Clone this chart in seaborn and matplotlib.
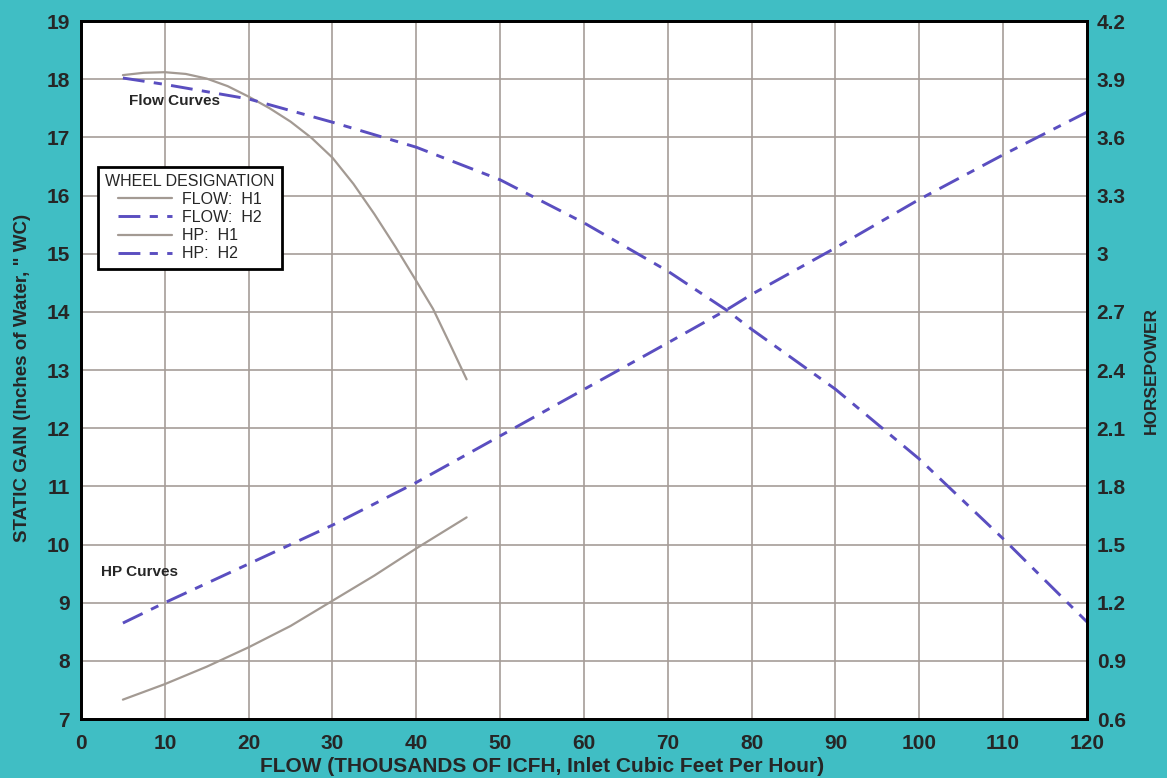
import numpy as np
import matplotlib
matplotlib.use("Agg")
import matplotlib.pyplot as plt
import seaborn as sns


# ======================================================
# Data
# ======================================================
# Flow curves (left axis, static gain in inches of water)
flow_h1_x = [5, 7.5, 10, 12.5, 15, 17.5, 20, 22.5, 25, 27.5, 30, 32.5, 35, 37.5, 40, 42, 44, 46]
flow_h1_y = [18.07, 18.11, 18.12, 18.09, 18.01, 17.88, 17.70, 17.50, 17.27, 16.99, 16.65,
             16.20, 15.68, 15.12, 14.53, 14.05, 13.45, 12.84]

flow_h2_x = [5, 10, 20, 30, 40, 50, 60, 70, 77, 80, 90, 100, 110, 120]
flow_h2_y = [18.02, 17.91, 17.66, 17.26, 16.83, 16.27, 15.53, 14.70, 14.03, 13.70, 12.67,
             11.47, 10.10, 8.67]

# HP curves (right axis, horsepower)
hp_h1_x = [5, 10, 15, 20, 25, 30, 35, 40, 43, 46]
hp_h1_y = [0.70, 0.78, 0.87, 0.97, 1.08, 1.21, 1.34, 1.48, 1.56, 1.64]

hp_h2_x = [5, 10, 20, 30, 40, 50, 60, 70, 77, 80, 90, 100, 110, 120]
hp_h2_y = [1.095, 1.20, 1.40, 1.60, 1.82, 2.06, 2.30, 2.54, 2.71, 2.79, 3.03, 3.28, 3.51, 3.73]

x_ticks = list(range(0, 121, 10))
left_ticks = list(range(7, 20))
right_ticks = [0.6, 0.9, 1.2, 1.5, 1.8, 2.1, 2.4, 2.7, 3.0, 3.3, 3.6, 3.9, 4.2]
right_labels = ["0.6", "0.9", "1.2", "1.5", "1.8", "2.1", "2.4", "2.7", "3", "3.3", "3.6", "3.9", "4.2"]


# ======================================================
# Style
# ======================================================
sns.set_style("white")
plt.rcParams["font.family"] = ["Liberation Sans", "DejaVu Sans"]

teal = "#40bec4"
grey = "#a39a93"
blue = "#5a4ec0"
grid_col = "#a69d98"
dash_pat = (0, (7.5, 3.2, 2.8, 3.2))

fig = plt.figure(figsize=(11.67, 7.78), dpi=100, facecolor=teal)
ax = fig.add_axes([0.0694, 0.0758, 0.8620, 0.8972])
ax.set_facecolor("white")
ax2 = ax.twinx()


# ======================================================
# Curves
# ======================================================
sns.lineplot(x=flow_h1_x, y=flow_h1_y, ax=ax, color=grey, linewidth=1.6,
             label="FLOW:  H1", legend=False)
sns.lineplot(x=flow_h2_x, y=flow_h2_y, ax=ax, color=blue, linewidth=2.1,
             linestyle=dash_pat, label="FLOW:  H2", legend=False)
sns.lineplot(x=hp_h1_x, y=hp_h1_y, ax=ax2, color=grey, linewidth=1.6,
             label="HP:  H1", legend=False)
sns.lineplot(x=hp_h2_x, y=hp_h2_y, ax=ax2, color=blue, linewidth=2.1,
             linestyle=dash_pat, label="HP:  H2", legend=False)


# ======================================================
# Axes
# ======================================================
ax.set_xlim(0, 120)
ax.set_ylim(7, 19)
ax2.set_ylim(0.6, 4.2)

ax.set_xticks(x_ticks)
ax.set_yticks(left_ticks)
ax2.set_yticks(right_ticks)
ax2.set_yticklabels(right_labels)

ax.grid(True, color=grid_col, linewidth=1.2)
ax.set_axisbelow(True)
ax2.grid(False)

ax.tick_params(axis="x", length=0, pad=11, labelsize=15)
ax.tick_params(axis="y", length=0, pad=8, labelsize=15)
ax2.tick_params(axis="y", length=0, pad=7, labelsize=15)
for lab in ax.get_xticklabels() + ax.get_yticklabels() + ax2.get_yticklabels():
    lab.set_fontweight("bold")

for a in (ax, ax2):
    for sp in a.spines.values():
        sp.set_visible(True)
        sp.set_color("black")
        sp.set_linewidth(2)

ax.set_xlabel("FLOW (THOUSANDS OF ICFH, Inlet Cubic Feet Per Hour)",
              fontsize=15, fontweight="bold")
ax.xaxis.set_label_coords(0.458, -0.054)
ax.set_ylabel("STATIC GAIN (Inches of Water, \" WC)",
              fontsize=13.5, fontweight="bold")
ax.yaxis.set_label_coords(-0.05, 0.4885)
ax2.set_ylabel("HORSEPOWER", fontsize=12.5, fontweight="bold", labelpad=13)

ax.text(5.7, 17.62, "Flow Curves", fontsize=11, fontweight="bold", va="center")
ax.text(2.4, 9.52, "HP Curves", fontsize=11, fontweight="bold", va="center")


# ======================================================
# Legend
# ======================================================
h1, l1 = ax.get_legend_handles_labels()
h2, l2 = ax2.get_legend_handles_labels()
leg = ax2.legend(h1 + h2, l1 + l2, title="WHEEL DESIGNATION",
                 loc="upper left", bbox_to_anchor=(0.017, 0.791), borderaxespad=0,
                 fontsize=11.5, title_fontsize=11.5, handlelength=3.4,
                 frameon=True, fancybox=False, framealpha=1,
                 edgecolor="black", borderpad=0.45, labelspacing=0.2,
                 handletextpad=0.6)
leg.get_frame().set_linewidth(2)
leg._legend_box.sep = 2

fig.savefig("out.png", dpi=100, facecolor=teal)
